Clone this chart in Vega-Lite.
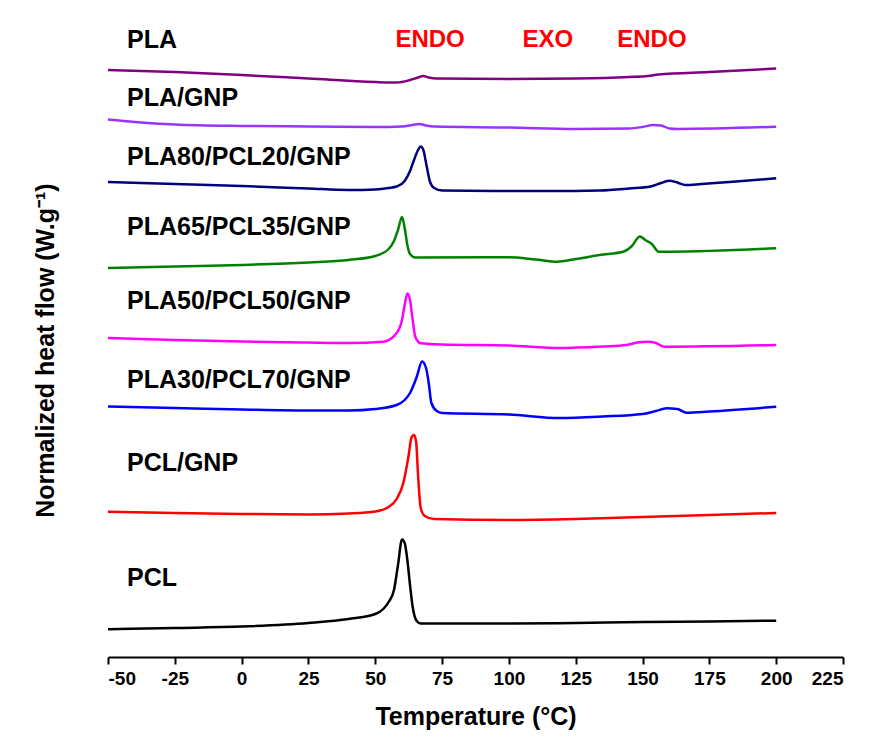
{
  "$schema": "https://vega.github.io/schema/vega-lite/v6.json",
  "width": 735,
  "height": 645,
  "autosize": {"type": "none"},
  "padding": {"left": 108, "top": 12, "right": 27, "bottom": 87},
  "background": "white",
  "config": {"view": {"stroke": null}},
  "datasets": {
    "curves": [
      {"s":"PLA","T":-50,"v":587},{"s":"PLA","T":-25,"v":585},{"s":"PLA","T":0,"v":582},{"s":"PLA","T":25,"v":578.5},{"s":"PLA","T":50,"v":575},{"s":"PLA","T":58,"v":574.5},{"s":"PLA","T":63,"v":577},{"s":"PLA","T":66,"v":579.5},{"s":"PLA","T":68,"v":581},{"s":"PLA","T":70,"v":579.5},{"s":"PLA","T":73,"v":578.5},{"s":"PLA","T":100,"v":578},{"s":"PLA","T":125,"v":578.5},{"s":"PLA","T":145,"v":580},{"s":"PLA","T":152,"v":581},{"s":"PLA","T":156,"v":582.5},{"s":"PLA","T":175,"v":585},{"s":"PLA","T":200,"v":588.5},
      {"s":"PLA/GNP","T":-50,"v":537.5},{"s":"PLA/GNP","T":-40,"v":535},{"s":"PLA/GNP","T":-25,"v":532.5},{"s":"PLA/GNP","T":0,"v":531},{"s":"PLA/GNP","T":25,"v":530.5},{"s":"PLA/GNP","T":50,"v":530},{"s":"PLA/GNP","T":60,"v":530.5},{"s":"PLA/GNP","T":64,"v":532},{"s":"PLA/GNP","T":66.5,"v":533},{"s":"PLA/GNP","T":69,"v":531.5},{"s":"PLA/GNP","T":72,"v":530.5},{"s":"PLA/GNP","T":100,"v":529.5},{"s":"PLA/GNP","T":125,"v":528},{"s":"PLA/GNP","T":145,"v":528.5},{"s":"PLA/GNP","T":150,"v":530},{"s":"PLA/GNP","T":154,"v":532},{"s":"PLA/GNP","T":157,"v":531.5},{"s":"PLA/GNP","T":160,"v":528.5},{"s":"PLA/GNP","T":163,"v":528},{"s":"PLA/GNP","T":200,"v":530.3},
      {"s":"PLA80/PCL20/GNP","T":-50,"v":475},{"s":"PLA80/PCL20/GNP","T":-25,"v":473},{"s":"PLA80/PCL20/GNP","T":0,"v":471},{"s":"PLA80/PCL20/GNP","T":25,"v":468.5},{"s":"PLA80/PCL20/GNP","T":40,"v":467},{"s":"PLA80/PCL20/GNP","T":50,"v":467.5},{"s":"PLA80/PCL20/GNP","T":55,"v":469},{"s":"PLA80/PCL20/GNP","T":58,"v":470.5},{"s":"PLA80/PCL20/GNP","T":61,"v":476},{"s":"PLA80/PCL20/GNP","T":63,"v":486},{"s":"PLA80/PCL20/GNP","T":64.5,"v":497},{"s":"PLA80/PCL20/GNP","T":66,"v":507},{"s":"PLA80/PCL20/GNP","T":67,"v":510.5},{"s":"PLA80/PCL20/GNP","T":68,"v":507},{"s":"PLA80/PCL20/GNP","T":69,"v":494},{"s":"PLA80/PCL20/GNP","T":70.5,"v":475},{"s":"PLA80/PCL20/GNP","T":72,"v":469},{"s":"PLA80/PCL20/GNP","T":75,"v":466.5},{"s":"PLA80/PCL20/GNP","T":100,"v":466},{"s":"PLA80/PCL20/GNP","T":115,"v":466},{"s":"PLA80/PCL20/GNP","T":134,"v":466.5},{"s":"PLA80/PCL20/GNP","T":145,"v":468.5},{"s":"PLA80/PCL20/GNP","T":153,"v":470.5},{"s":"PLA80/PCL20/GNP","T":157,"v":474},{"s":"PLA80/PCL20/GNP","T":160,"v":476.3},{"s":"PLA80/PCL20/GNP","T":163,"v":474.5},{"s":"PLA80/PCL20/GNP","T":166,"v":472},{"s":"PLA80/PCL20/GNP","T":172,"v":473},{"s":"PLA80/PCL20/GNP","T":185,"v":475.5},{"s":"PLA80/PCL20/GNP","T":200,"v":478.7},
      {"s":"PLA65/PCL35/GNP","T":-50,"v":389},{"s":"PLA65/PCL35/GNP","T":-25,"v":390.5},{"s":"PLA65/PCL35/GNP","T":0,"v":392},{"s":"PLA65/PCL35/GNP","T":25,"v":394.5},{"s":"PLA65/PCL35/GNP","T":40,"v":397},{"s":"PLA65/PCL35/GNP","T":50,"v":401},{"s":"PLA65/PCL35/GNP","T":55,"v":408},{"s":"PLA65/PCL35/GNP","T":57,"v":416},{"s":"PLA65/PCL35/GNP","T":58.5,"v":427},{"s":"PLA65/PCL35/GNP","T":60,"v":440},{"s":"PLA65/PCL35/GNP","T":61,"v":429},{"s":"PLA65/PCL35/GNP","T":62,"v":412},{"s":"PLA65/PCL35/GNP","T":63,"v":403},{"s":"PLA65/PCL35/GNP","T":65,"v":399.5},{"s":"PLA65/PCL35/GNP","T":100,"v":399.7},{"s":"PLA65/PCL35/GNP","T":110,"v":397.5},{"s":"PLA65/PCL35/GNP","T":118,"v":395.3},{"s":"PLA65/PCL35/GNP","T":125,"v":398},{"s":"PLA65/PCL35/GNP","T":134,"v":402},{"s":"PLA65/PCL35/GNP","T":143,"v":405.5},{"s":"PLA65/PCL35/GNP","T":146,"v":411},{"s":"PLA65/PCL35/GNP","T":149,"v":420.5},{"s":"PLA65/PCL35/GNP","T":151,"v":417},{"s":"PLA65/PCL35/GNP","T":153.5,"v":413},{"s":"PLA65/PCL35/GNP","T":156,"v":405.3},{"s":"PLA65/PCL35/GNP","T":160,"v":405.3},{"s":"PLA65/PCL35/GNP","T":200,"v":408.7},
      {"s":"PLA50/PCL50/GNP","T":-50,"v":319},{"s":"PLA50/PCL50/GNP","T":-25,"v":317},{"s":"PLA50/PCL50/GNP","T":0,"v":315.5},{"s":"PLA50/PCL50/GNP","T":25,"v":314.5},{"s":"PLA50/PCL50/GNP","T":40,"v":314},{"s":"PLA50/PCL50/GNP","T":53,"v":315.3},{"s":"PLA50/PCL50/GNP","T":58,"v":324},{"s":"PLA50/PCL50/GNP","T":60,"v":337},{"s":"PLA50/PCL50/GNP","T":61,"v":352},{"s":"PLA50/PCL50/GNP","T":62,"v":363.5},{"s":"PLA50/PCL50/GNP","T":63,"v":357},{"s":"PLA50/PCL50/GNP","T":64,"v":337},{"s":"PLA50/PCL50/GNP","T":65,"v":320},{"s":"PLA50/PCL50/GNP","T":67,"v":313.7},{"s":"PLA50/PCL50/GNP","T":75,"v":312.5},{"s":"PLA50/PCL50/GNP","T":100,"v":311.5},{"s":"PLA50/PCL50/GNP","T":119,"v":309},{"s":"PLA50/PCL50/GNP","T":135,"v":310.5},{"s":"PLA50/PCL50/GNP","T":144,"v":312},{"s":"PLA50/PCL50/GNP","T":148,"v":314.5},{"s":"PLA50/PCL50/GNP","T":152,"v":315.3},{"s":"PLA50/PCL50/GNP","T":155,"v":314},{"s":"PLA50/PCL50/GNP","T":158,"v":310.3},{"s":"PLA50/PCL50/GNP","T":200,"v":312},
      {"s":"PLA30/PCL70/GNP","T":-50,"v":250.5},{"s":"PLA30/PCL70/GNP","T":-25,"v":249},{"s":"PLA30/PCL70/GNP","T":0,"v":247.5},{"s":"PLA30/PCL70/GNP","T":25,"v":246.5},{"s":"PLA30/PCL70/GNP","T":40,"v":246.5},{"s":"PLA30/PCL70/GNP","T":50,"v":248},{"s":"PLA30/PCL70/GNP","T":58,"v":252},{"s":"PLA30/PCL70/GNP","T":61,"v":257},{"s":"PLA30/PCL70/GNP","T":63,"v":264},{"s":"PLA30/PCL70/GNP","T":65.5,"v":280},{"s":"PLA30/PCL70/GNP","T":67.5,"v":295.5},{"s":"PLA30/PCL70/GNP","T":69,"v":289},{"s":"PLA30/PCL70/GNP","T":70,"v":274},{"s":"PLA30/PCL70/GNP","T":71,"v":254},{"s":"PLA30/PCL70/GNP","T":73,"v":246},{"s":"PLA30/PCL70/GNP","T":75,"v":244},{"s":"PLA30/PCL70/GNP","T":100,"v":242.5},{"s":"PLA30/PCL70/GNP","T":119,"v":239},{"s":"PLA30/PCL70/GNP","T":135,"v":240.5},{"s":"PLA30/PCL70/GNP","T":150,"v":243},{"s":"PLA30/PCL70/GNP","T":155,"v":246},{"s":"PLA30/PCL70/GNP","T":159,"v":248.7},{"s":"PLA30/PCL70/GNP","T":163,"v":248},{"s":"PLA30/PCL70/GNP","T":166.5,"v":244.3},{"s":"PLA30/PCL70/GNP","T":175,"v":245.5},{"s":"PLA30/PCL70/GNP","T":200,"v":250.3},
      {"s":"PCL/GNP","T":-50,"v":145.3},{"s":"PCL/GNP","T":-25,"v":144},{"s":"PCL/GNP","T":0,"v":143},{"s":"PCL/GNP","T":25,"v":142.5},{"s":"PCL/GNP","T":40,"v":143.5},{"s":"PCL/GNP","T":50,"v":145.5},{"s":"PCL/GNP","T":55,"v":150},{"s":"PCL/GNP","T":58,"v":158},{"s":"PCL/GNP","T":60.5,"v":174},{"s":"PCL/GNP","T":62.5,"v":202},{"s":"PCL/GNP","T":63.5,"v":219},{"s":"PCL/GNP","T":64.5,"v":222},{"s":"PCL/GNP","T":65.3,"v":215},{"s":"PCL/GNP","T":66,"v":182},{"s":"PCL/GNP","T":67,"v":149},{"s":"PCL/GNP","T":68.5,"v":141},{"s":"PCL/GNP","T":72,"v":138},{"s":"PCL/GNP","T":100,"v":137},{"s":"PCL/GNP","T":125,"v":138},{"s":"PCL/GNP","T":150,"v":140},{"s":"PCL/GNP","T":175,"v":142},{"s":"PCL/GNP","T":200,"v":144},
      {"s":"PCL","T":-50,"v":27.7},{"s":"PCL","T":-25,"v":29},{"s":"PCL","T":0,"v":30.5},{"s":"PCL","T":25,"v":34},{"s":"PCL","T":40,"v":38},{"s":"PCL","T":50,"v":43},{"s":"PCL","T":53,"v":48},{"s":"PCL","T":55,"v":55},{"s":"PCL","T":57,"v":67},{"s":"PCL","T":58.5,"v":92},{"s":"PCL","T":60,"v":117.5},{"s":"PCL","T":61,"v":114},{"s":"PCL","T":62,"v":97},{"s":"PCL","T":63,"v":72},{"s":"PCL","T":64,"v":50},{"s":"PCL","T":65.5,"v":36},{"s":"PCL","T":67,"v":33.5},{"s":"PCL","T":100,"v":33.5},{"s":"PCL","T":125,"v":34},{"s":"PCL","T":150,"v":35},{"s":"PCL","T":175,"v":35.5},{"s":"PCL","T":200,"v":36.3}
    ],
    "names": [
      {"label":"PLA","T":-42.9,"v":617},
      {"label":"PLA/GNP","T":-42.9,"v":559},
      {"label":"PLA80/PCL20/GNP","T":-42.9,"v":500},
      {"label":"PLA65/PCL35/GNP","T":-42.9,"v":430},
      {"label":"PLA50/PCL50/GNP","T":-42.9,"v":356},
      {"label":"PLA30/PCL70/GNP","T":-42.9,"v":277},
      {"label":"PCL/GNP","T":-42.9,"v":194},
      {"label":"PCL","T":-42.9,"v":79}
    ],
    "marks": [
      {"label":"ENDO","T":70.5,"v":617},
      {"label":"EXO","T":114.6,"v":617},
      {"label":"ENDO","T":153.5,"v":617}
    ]
  },
  "layer": [
    {
      "data": {"name": "curves"},
      "mark": {"type": "line", "strokeWidth": 2.5, "interpolate": "monotone"},
      "encoding": {
        "x": {
          "field": "T", "type": "quantitative",
          "scale": {"domain": [-50, 225], "nice": false, "zero": false},
          "axis": {
            "title": "Temperature (°C)",
            "values": [-50,-25,0,25,50,75,100,125,150,175,200,225],
            "labelExpr": "'' + datum.value",
            "grid": false,
            "domainColor": "black", "domainWidth": 2,
            "tickColor": "black", "tickWidth": 2, "tickSize": 7,
            "labelFont": "Liberation Sans", "labelFontWeight": "bold", "labelFontSize": 19, "labelColor": "black", "labelPadding": 5,
            "titleFont": "Liberation Sans", "titleFontWeight": "bold", "titleFontSize": 25, "titleColor": "black", "titlePadding": 16
          }
        },
        "y": {
          "field": "v", "type": "quantitative",
          "scale": {"domain": [0, 645], "nice": false, "zero": false},
          "axis": {
            "title": "Normalized heat flow (W.g⁻¹)",
            "domain": false, "ticks": false, "labels": false, "grid": false,
            "titleFont": "Liberation Sans", "titleFontWeight": "bold", "titleFontSize": 25, "titleColor": "black",
            "titleX": -63, "titleY": 338, "titleAngle": -90, "titleAlign": "center", "titleBaseline": "middle"
          }
        },
        "color": {
          "field": "s", "type": "nominal", "legend": null,
          "scale": {
            "domain": ["PLA","PLA/GNP","PLA80/PCL20/GNP","PLA65/PCL35/GNP","PLA50/PCL50/GNP","PLA30/PCL70/GNP","PCL/GNP","PCL"],
            "range": ["#800080","#9933FF","#000080","#008000","#FF00FF","#0000FF","#FF0000","#000000"]
          }
        }
      }
    },
    {
      "data": {"name": "names"},
      "mark": {"type": "text", "align": "left", "baseline": "middle", "font": "Liberation Sans", "fontWeight": "bold", "fontSize": 25, "color": "black"},
      "encoding": {
        "x": {"field": "T", "type": "quantitative"},
        "y": {"field": "v", "type": "quantitative"},
        "text": {"field": "label"}
      }
    },
    {
      "data": {"name": "marks"},
      "mark": {"type": "text", "align": "center", "baseline": "middle", "font": "Liberation Sans", "fontWeight": "bold", "fontSize": 24, "color": "#FF0000"},
      "encoding": {
        "x": {"field": "T", "type": "quantitative"},
        "y": {"field": "v", "type": "quantitative"},
        "text": {"field": "label"}
      }
    }
  ]
}
